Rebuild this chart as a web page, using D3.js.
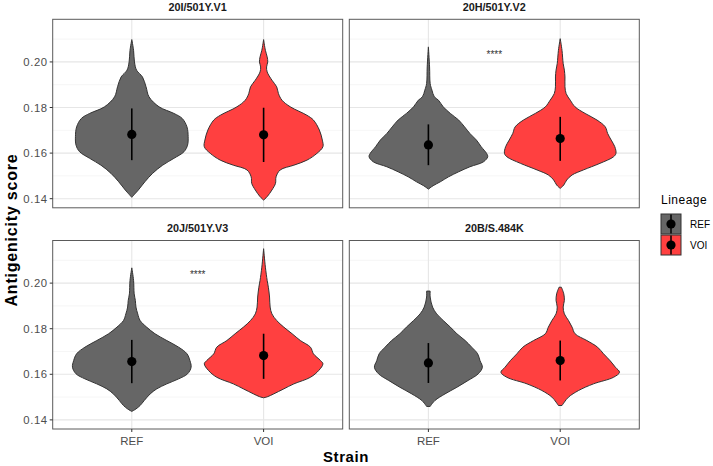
<!DOCTYPE html>
<html>
<head>
<meta charset="utf-8">
<script src="https://cdn.jsdelivr.net/npm/d3@7"></script>
<style>
  html, body { margin: 0; padding: 0; background: #ffffff; }
  svg { display: block; font-family: "Liberation Sans", Arial, Helvetica, sans-serif; }
</style>
</head>
<body>
<svg id="chart" width="713" height="466"></svg>
<script>
// ---------------- data ----------------
const panels = ["20I/501Y.V1", "20H/501Y.V2", "20J/501Y.V3", "20B/S.484K"];
const strains = ["REF", "VOI"];
const lineages = ["REF", "VOI"];
const yTicks = [0.14, 0.16, 0.18, 0.20];
const yMinorTicks = [0.15, 0.17, 0.19, 0.21];

// violin outlines: [score, relative half-width]
const v1Ref = [[0.2098,0],[0.2051,0.03],[0.2000,0.045],[0.1964,0.08],[0.1934,0.18],[0.1891,0.24],[0.1847,0.29],[0.1803,0.46],[0.1774,0.71],[0.1752,0.85],[0.1715,0.93],[0.1672,0.95],[0.1635,0.94],[0.1606,0.88],[0.1577,0.71],[0.1547,0.52],[0.1511,0.35],[0.1474,0.22],[0.1438,0.11],[0.1406,0.0]];
const v1Voi = [[0.2098,0],[0.2051,0.03],[0.2022,0.06],[0.2000,0.07],[0.1978,0.05],[0.1956,0.06],[0.1920,0.14],[0.1891,0.22],[0.1861,0.25],[0.1832,0.31],[0.1803,0.45],[0.1766,0.73],[0.1745,0.84],[0.1701,0.94],[0.1657,0.99],[0.1628,1.0],[0.1599,0.90],[0.1569,0.73],[0.1547,0.51],[0.1526,0.28],[0.1496,0.21],[0.1467,0.20],[0.1438,0.14],[0.1409,0.06],[0.1394,0]];
const v2Ref = [[0.2066,0],[0.1978,0.02],[0.1905,0.03],[0.1876,0.06],[0.1847,0.10],[0.1832,0.17],[0.1803,0.25],[0.1774,0.37],[0.1745,0.51],[0.1715,0.61],[0.1686,0.70],[0.1657,0.81],[0.1628,0.89],[0.1599,0.98],[0.1584,1.0],[0.1562,0.93],[0.1540,0.70],[0.1518,0.51],[0.1496,0.34],[0.1474,0.20],[0.1457,0.08],[0.1442,0]];
const v2Voi = [[0.2102,0],[0.2051,0.03],[0.1993,0.05],[0.1964,0.07],[0.1934,0.08],[0.1891,0.08],[0.1861,0.10],[0.1832,0.17],[0.1803,0.25],[0.1774,0.42],[0.1745,0.62],[0.1715,0.76],[0.1686,0.80],[0.1657,0.86],[0.1628,0.92],[0.1599,0.94],[0.1584,0.90],[0.1555,0.67],[0.1526,0.39],[0.1504,0.20],[0.1482,0.11],[0.1460,0.06],[0.1445,0]];
const v3Ref = [[0.2067,0],[0.2012,0.03],[0.1953,0.04],[0.1924,0.06],[0.1895,0.07],[0.1865,0.10],[0.1836,0.14],[0.1807,0.25],[0.1778,0.39],[0.1748,0.59],[0.1719,0.79],[0.1690,0.93],[0.1660,0.98],[0.1631,1.0],[0.1602,0.94],[0.1580,0.79],[0.1558,0.59],[0.1536,0.42],[0.1514,0.31],[0.1485,0.21],[0.1463,0.14],[0.1448,0.07],[0.1437,0]];
const v3Voi = [[0.2151,0],[0.2070,0.03],[0.2012,0.06],[0.1982,0.08],[0.1939,0.10],[0.1895,0.11],[0.1865,0.14],[0.1836,0.22],[0.1807,0.34],[0.1778,0.48],[0.1748,0.62],[0.1719,0.79],[0.1690,0.84],[0.1660,0.96],[0.1646,1.0],[0.1617,0.93],[0.1587,0.79],[0.1558,0.51],[0.1536,0.34],[0.1514,0.17],[0.1502,0.07],[0.1497,0]];
const v4Ref = [[0.1965,0.03],[0.1939,0.03],[0.1895,0.07],[0.1865,0.14],[0.1836,0.25],[0.1807,0.37],[0.1778,0.48],[0.1748,0.62],[0.1719,0.73],[0.1690,0.83],[0.1660,0.87],[0.1631,0.91],[0.1602,0.84],[0.1573,0.67],[0.1543,0.48],[0.1514,0.28],[0.1485,0.11],[0.1463,0.04],[0.1459,0.03]];
const v4Voi = [[0.1982,0.02],[0.1953,0.06],[0.1924,0.07],[0.1895,0.05],[0.1865,0.07],[0.1836,0.14],[0.1807,0.20],[0.1778,0.25],[0.1748,0.45],[0.1719,0.63],[0.1690,0.73],[0.1660,0.84],[0.1631,0.93],[0.1609,1.0],[0.1587,0.90],[0.1558,0.56],[0.1529,0.31],[0.1500,0.14],[0.1478,0.07],[0.1463,0.03]];
const violins = [[v1Ref, v1Voi], [v2Ref, v2Voi], [v3Ref, v3Voi], [v4Ref, v4Voi]];

// mean and mean ± sd for each panel: [REF, VOI]
const means = [[0.1682, 0.1680], [0.1636, 0.1664], [0.1656, 0.1682], [0.1650, 0.1660]];
const lowers = [[0.1569, 0.1561], [0.1547, 0.1566], [0.1561, 0.1580], [0.1562, 0.1573]];
const uppers = [[0.1796, 0.1799], [0.1726, 0.1759], [0.1751, 0.1778], [0.1737, 0.1748]];

const sigLabels = ["", "****", "****", ""];
const sigScores = [null, 0.2036, 0.2038, null];

const fills = ["#666666", "#FF4040"];

// ---------------- layout ----------------
const svg = d3.select("#chart");
const colLeft = [52.7, 349.3];
const panelW = 290;
const rowTop = [19.3, 240.5];
const panelH = 188.5;

const y0 = d3.scaleLinear().domain([0.1360, 0.2187]);

panels.forEach((name, i) => {
  const col = i % 2, row = Math.floor(i / 2);
  const left = colLeft[col], top = rowTop[row];
  const x = d3.scalePoint().domain(strains).range([left, left + panelW]).padding(0.6);
  const y = y0.copy().range([top + panelH, top]);
  const g = svg.append("g");

  // grid
  g.selectAll(".minor").data(yMinorTicks).join("line")
    .attr("x1", left).attr("x2", left + panelW)
    .attr("y1", d => y(d)).attr("y2", d => y(d))
    .attr("stroke", "#f0f0f0").attr("stroke-width", 0.6);
  g.selectAll(".major").data(yTicks).join("line")
    .attr("x1", left).attr("x2", left + panelW)
    .attr("y1", d => y(d)).attr("y2", d => y(d))
    .attr("stroke", "#e6e6e6").attr("stroke-width", 1.1);
  g.selectAll(".vmajor").data(strains).join("line")
    .attr("x1", d => x(d)).attr("x2", d => x(d))
    .attr("y1", top).attr("y2", top + panelH)
    .attr("stroke", "#e6e6e6").attr("stroke-width", 1.1);

  // violins
  const half = 0.45 * x.step();
  strains.forEach((s, j) => {
    const cx = x(s);
    const area = d3.area()
      .y(d => y(d[0]))
      .x0(d => cx - d[1] * half)
      .x1(d => cx + d[1] * half)
      .curve(d3.curveCatmullRom.alpha(0.5));
    g.append("path").datum(violins[i][j])
      .attr("d", area)
      .attr("fill", fills[j])
      .attr("stroke", "#333333")
      .attr("stroke-width", 1);
    // pointrange
    g.append("line")
      .attr("x1", cx).attr("x2", cx)
      .attr("y1", y(lowers[i][j])).attr("y2", y(uppers[i][j]))
      .attr("stroke", "#000").attr("stroke-width", 1.6);
    g.append("circle")
      .attr("cx", cx).attr("cy", y(means[i][j])).attr("r", 4.6)
      .attr("fill", "#000");
  });

  // significance
  if (sigLabels[i]) {
    g.append("text")
      .attr("x", (x(strains[0]) + x(strains[1])) / 2)
      .attr("y", y(sigScores[i]) + 4)
      .attr("text-anchor", "middle")
      .attr("font-size", 10)
      .attr("fill", "#333")
      .text(sigLabels[i]);
  }

  // border
  g.append("rect")
    .attr("x", left).attr("y", top).attr("width", panelW).attr("height", panelH)
    .attr("fill", "none").attr("stroke", "#5a5a5a").attr("stroke-width", 1);

  // strip title
  g.append("text")
    .attr("x", left + panelW / 2).attr("y", top - 8.3)
    .attr("text-anchor", "middle")
    .attr("font-size", 10.8).attr("font-weight", "bold")
    .attr("fill", "#1a1a1a")
    .text(name);

  // y axis on left column
  if (col === 0) {
    const ya = g.append("g");
    yTicks.forEach(t => {
      ya.append("line").attr("x1", left - 3).attr("x2", left)
        .attr("y1", y(t)).attr("y2", y(t)).attr("stroke", "#333").attr("stroke-width", 1);
      ya.append("text").attr("x", left - 5).attr("y", y(t) + 4)
        .attr("text-anchor", "end").attr("font-size", 11.3)
        .attr("letter-spacing", 0.6)
        .attr("fill", "#4d4d4d").text(d3.format(".2f")(t));
    });
  }
  // x axis on bottom row
  if (row === 1) {
    strains.forEach(s => {
      g.append("line").attr("x1", x(s)).attr("x2", x(s))
        .attr("y1", top + panelH).attr("y2", top + panelH + 3)
        .attr("stroke", "#333").attr("stroke-width", 1);
      g.append("text").attr("x", x(s)).attr("y", top + panelH + 15.5)
        .attr("text-anchor", "middle").attr("font-size", 11.5)
        .attr("fill", "#4d4d4d").text(s);
    });
  }
});

// axis titles
svg.append("text")
  .attr("transform", "translate(17,230) rotate(-90)")
  .attr("text-anchor", "middle")
  .attr("font-size", 16).attr("font-weight", "bold")
  .attr("letter-spacing", 0.8)
  .attr("fill", "#000")
  .text("Antigenicity score");
svg.append("text")
  .attr("x", 346).attr("y", 462)
  .attr("text-anchor", "middle")
  .attr("font-size", 15).attr("font-weight", "bold")
  .attr("letter-spacing", 0.6)
  .attr("fill", "#000")
  .text("Strain");

// legend
const lg = svg.append("g");
lg.append("text").attr("x", 661).attr("y", 204)
  .attr("font-size", 12).attr("letter-spacing", 0.5).attr("fill", "#000").text("Lineage");
lineages.forEach((l, k) => {
  const ky = 214 + k * 21;
  lg.append("rect").attr("x", 661).attr("y", ky).attr("width", 20).attr("height", 20)
    .attr("fill", fills[k]).attr("stroke", "#333").attr("stroke-width", 1);
  lg.append("line").attr("x1", 671).attr("x2", 671).attr("y1", ky + 0.5).attr("y2", ky + 19.5)
    .attr("stroke", "#000").attr("stroke-width", 1.5);
  lg.append("circle").attr("cx", 671).attr("cy", ky + 10).attr("r", 4.6).attr("fill", "#000");
  lg.append("text").attr("x", 690).attr("y", ky + 13.5)
    .attr("font-size", 10).attr("fill", "#000").text(l);
});
</script>
</body>
</html>
